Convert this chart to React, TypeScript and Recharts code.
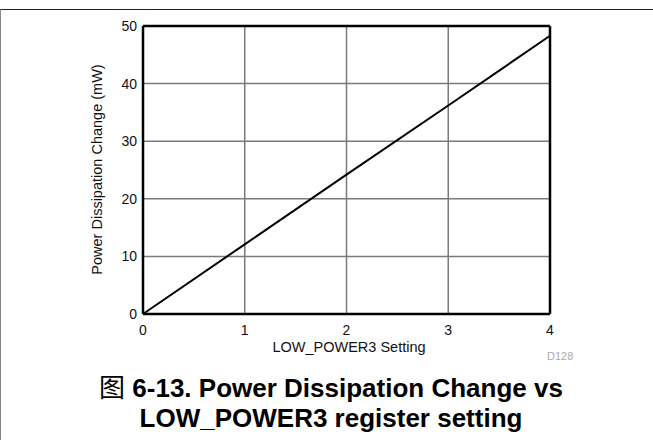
import { LineChart, Line, XAxis, YAxis, CartesianGrid, ReferenceLine } from 'recharts';

const settings = [0, 1, 2, 3, 4];
const powerChange = [0, 12.1, 24.2, 36.2, 48.3];
const xTicks = [0, 1, 2, 3, 4];
const yTicks = [0, 10, 20, 30, 40, 50];

const FONT = "'Liberation Sans', Arial, Helvetica, sans-serif";
const GRID = '#7a7a7a';

export default function App() {
  const data = settings.map((s, i) => ({ setting: s, power: powerChange[i] }));

  return (
    <div style={{ position: 'absolute', left: 0, top: 0, width: 653, height: 440, background: '#fff', fontFamily: FONT, overflow: 'hidden' }}>
      {/* figure frame */}
      <div style={{ position: 'absolute', left: 0, top: 9, width: 653, height: 431, borderTop: '1.5px solid #222', borderLeft: '1px solid #888', boxSizing: 'border-box' }} />

      <LineChart width={653} height={440} data={data} margin={{ top: 26, right: 103, bottom: 96, left: 103 }}>
        <CartesianGrid stroke={GRID} strokeWidth={1.5} />
        <XAxis
          dataKey="setting" type="number" domain={[0, 4]} ticks={xTicks}
          height={30} tickLine={false} tickSize={0} tickMargin={11}
          axisLine={{ stroke: '#000', strokeWidth: 2.5 }}
          tick={{ fill: '#111', fontSize: 14, fontFamily: FONT }}
        />
        <YAxis
          type="number" domain={[0, 50]} ticks={yTicks}
          width={40} tickLine={false} tickSize={0} tickMargin={6}
          axisLine={{ stroke: '#000', strokeWidth: 2.5 }}
          tick={{ fill: '#111', fontSize: 14, fontFamily: FONT }}
        />
        <ReferenceLine y={50} stroke="#000" strokeWidth={2.5} />
        <ReferenceLine x={4} stroke="#000" strokeWidth={2.5} />
        <Line type="linear" dataKey="power" stroke="#000" strokeWidth={2} dot={false} isAnimationActive={false} />
      </LineChart>

      {/* axis titles */}
      <div style={{ position: 'absolute', left: 249, top: 339, width: 200, textAlign: 'center', fontSize: 14.5, lineHeight: '17px', color: '#111' }}>
        LOW_POWER3 Setting
      </div>
      <div style={{ position: 'absolute', left: 97 - 130, top: 170 - 9, width: 260, textAlign: 'center', fontSize: 14.5, lineHeight: '17px', color: '#111', transform: 'rotate(-90deg)' }}>
        Power Dissipation Change (mW)
      </div>
      <div style={{ position: 'absolute', left: 547, top: 350, fontSize: 11, lineHeight: '13px', color: '#aaa' }}>D128</div>

      {/* caption */}
      <div style={{ position: 'absolute', left: 0, top: 371, width: 662, textAlign: 'center', fontSize: 26, lineHeight: '30px', fontWeight: 'bold', color: '#000' }}>
        <div><span style={{ fontFamily: "'Noto Sans CJK SC', sans-serif", fontWeight: 'normal' }}>图</span> 6-13. Power Dissipation Change vs</div>
        <div>LOW_POWER3 register setting</div>
      </div>
    </div>
  );
}
